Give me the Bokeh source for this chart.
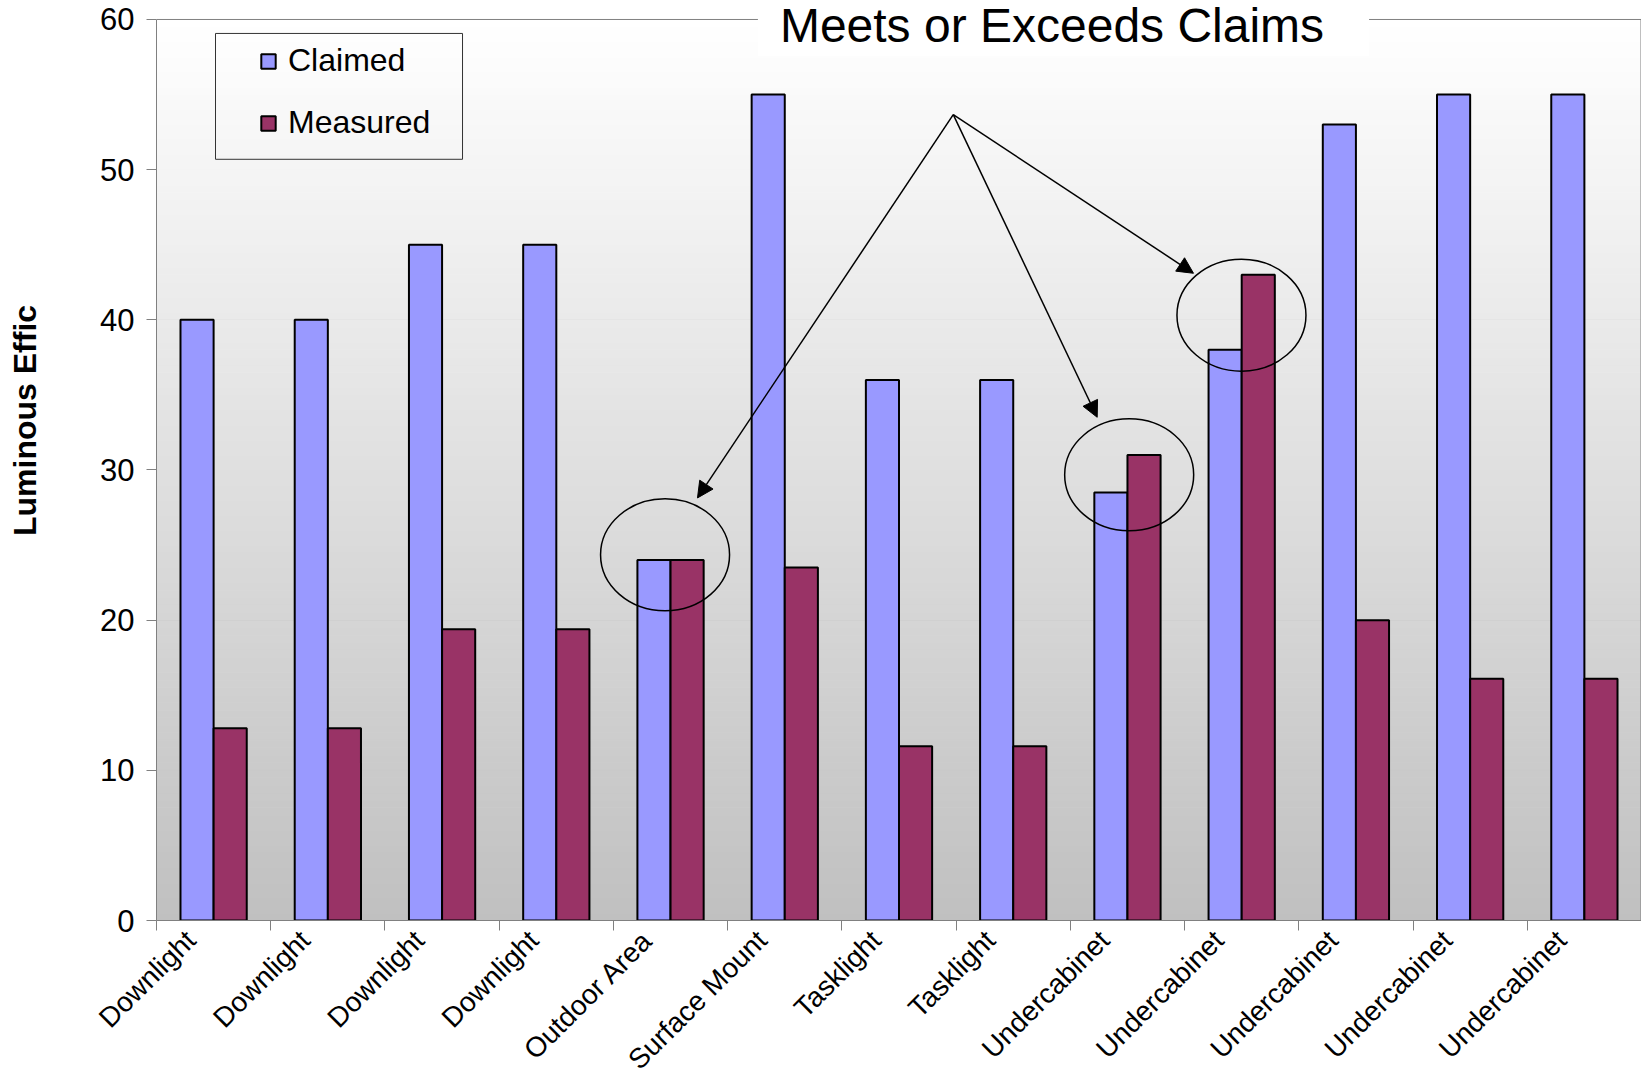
import math
import numpy as np
from bokeh.plotting import figure
from bokeh.models import (Range1d, FixedTicker, Legend, LegendItem, Label, Arrow, Span,
                          NormalHead, BoxAnnotation, CustomJSTickFormatter)
from bokeh.embed import file_html
from bokeh.resources import INLINE

# ---------------- data ----------------
categories = ["Downlight", "Downlight", "Downlight", "Downlight", "Outdoor Area",
              "Surface Mount", "Tasklight", "Tasklight", "Undercabinet", "Undercabinet",
              "Undercabinet", "Undercabinet", "Undercabinet"]
claimed = [40, 40, 45, 45, 24, 55, 36, 36, 28.5, 38, 53, 55, 55]
measured = [12.8, 12.8, 19.4, 19.4, 24, 23.5, 11.6, 11.6, 31, 43, 20, 16.1, 16.1]
series_names = ["Claimed", "Measured"]
y_ticks = [0, 10, 20, 30, 40, 50, 60]
title_text = "Meets or Exceeds Claims"
y_label = "Luminous Effic"

# annotation geometry (data units)
arrow_start = (6.975, 53.66)
arrow_ends = [(4.736, 28.14), (8.235, 33.51), (9.078, 43.1)]
circle_x = [4.452, 8.515, 9.498]
circle_y = [24.35, 29.68, 40.31]

N = len(categories)
YMAX = y_ticks[-1]
PX_PER_UNIT = 902 / YMAX          # frame: 60 units over 902 px
Y_TOP = YMAX + 19 / PX_PER_UNIT    # head-room above the plot box for the title
FONT = "Liberation Sans"
C_CLAIMED = "#9999FF"
C_MEASURED = "#993366"
EDGE = "#808080"

p = figure(width=1641, height=1089, x_range=Range1d(0, N), y_range=Range1d(0, Y_TOP),
           output_backend="svg", toolbar_location=None,
           min_border_left=156, min_border_right=0, min_border_top=0, min_border_bottom=168)
p.background_fill_color = "white"
p.border_fill_color = "white"
p.outline_line_color = None

# gradient background (white at top -> silver at bottom)
n_strips = 120
edges = np.linspace(0, YMAX, n_strips + 1)
cols = []
for k in range(n_strips):
    t = (edges[k] + edges[k + 1]) / 2 / YMAX
    c = int(round(192 + 63 * t))
    cols.append("#%02x%02x%02x" % (c, c, c))
p.quad(left=0, right=N, bottom=edges[:-1], top=edges[1:], fill_color=cols,
       line_color=cols, line_width=1)

# grid
p.xgrid.visible = False
p.ygrid.ticker = FixedTicker(ticks=y_ticks[1:-1])
p.ygrid.grid_line_color = "black"
p.ygrid.grid_line_width = 1
p.add_layout(Span(location=YMAX, dimension="width", line_color=EDGE, line_width=1))
p.segment(x0=[N], y0=[0], x1=[N], y1=[YMAX], line_color=EDGE, line_width=2)

# bars
x_idx = np.arange(N) + 0.5
off, bw = 0.145, 0.29
r1 = p.vbar(x=x_idx - off, top=claimed, width=bw, fill_color=C_CLAIMED,
            line_color="black", line_width=2)
r2 = p.vbar(x=x_idx + off, top=measured, width=bw, fill_color=C_MEASURED,
            line_color="black", line_width=2)

# circles around groups where measured meets or exceeds claimed
p.ellipse(x=circle_x, y=circle_y,
          width=129, height=112, width_units="screen", height_units="screen",
          fill_color=None, line_color="black", line_width=1.5)

for xe, ye in arrow_ends:
    p.add_layout(Arrow(end=NormalHead(size=16, fill_color="black", line_color="black"),
                       x_start=arrow_start[0], y_start=arrow_start[1], x_end=xe, y_end=ye,
                       line_color="black", line_width=1.5))

# axes
p.yaxis.ticker = FixedTicker(ticks=y_ticks)
p.yaxis.bounds = (0, YMAX)
p.yaxis.axis_line_color = EDGE
p.yaxis.major_tick_line_color = EDGE
p.yaxis.major_tick_out = 10
p.yaxis.major_tick_in = 0
p.yaxis.minor_tick_line_color = None
p.yaxis.major_label_standoff = 12
p.yaxis.major_label_text_font = FONT
p.yaxis.major_label_text_font_size = "31px"
p.yaxis.major_label_text_color = "black"
# axis title, nudged toward the top with leading no-break spaces
p.yaxis.axis_label = "\u00a0" * 9 + y_label
p.yaxis.axis_label_standoff = 54
p.yaxis.axis_label_text_font = FONT
p.yaxis.axis_label_text_font_size = "32px"
p.yaxis.axis_label_text_font_style = "bold"
p.yaxis.axis_label_text_color = "black"

label_pos = list(x_idx - 0.2)
p.xaxis.ticker = FixedTicker(ticks=label_pos, minor_ticks=list(range(N + 1)))
p.xaxis.formatter = CustomJSTickFormatter(args=dict(labels=categories),
                                          code="const i = Math.floor(tick); return (i >= 0 && i < labels.length) ? labels[i] : '';")
p.xaxis.axis_line_color = EDGE
p.xaxis.major_tick_line_color = None
p.xaxis.major_tick_out = 0
p.xaxis.major_tick_in = 0
p.xaxis.minor_tick_line_color = EDGE
p.xaxis.minor_tick_out = 10
p.xaxis.minor_tick_in = 0
p.xaxis.major_label_orientation = math.pi / 4
p.xaxis.major_label_standoff = 5
p.xaxis.major_label_text_font = FONT
p.xaxis.major_label_text_font_size = "28px"
p.xaxis.major_label_text_color = "black"

# title over the top border
p.add_layout(Label(x=7.94, y=59.6, text=title_text, text_align="center",
                   text_baseline="alphabetic", text_font=FONT, text_font_size="48px",
                   text_color="black", background_fill_color="white",
                   padding=dict(left=22, right=45, top=4, bottom=4)))

# legend
p.add_layout(BoxAnnotation(left=0.5165, right=2.679, top=59.07, bottom=50.69,
                           fill_color=None, fill_alpha=0, line_color="#333333",
                           line_width=1, line_alpha=1))
legend = Legend(items=[LegendItem(label=series_names[0], renderers=[r1]),
                       LegendItem(label=series_names[1], renderers=[r2])],
                location=(103, 779), orientation="vertical", border_line_color=None,
                background_fill_alpha=0, padding=0, margin=0, spacing=25,
                glyph_width=18, glyph_height=18, label_standoff=11,
                label_text_font=FONT, label_text_font_size="32px",
                label_text_color="black")
p.add_layout(legend)

open("out.html", "w").write(file_html(p, INLINE))
